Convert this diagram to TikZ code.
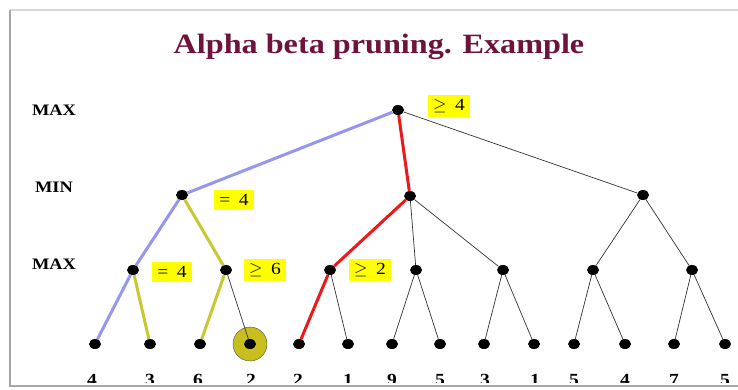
\documentclass[tikz,border=0pt]{standalone}
\usepackage{fontspec}
\setmainfont{Liberation Serif}[FakeStretch=1.15]
\usetikzlibrary{positioning, shapes.geometric}
\definecolor{titlered}{RGB}{110,20,60}
\definecolor{pathblue}{RGB}{150,150,240}
\definecolor{pathyellow}{RGB}{200,200,50}
\definecolor{pathred}{RGB}{235,25,25}
\definecolor{boxyellow}{RGB}{255,255,0}
\definecolor{cutfill}{RGB}{200,190,30}

\begin{document}
\begin{tikzpicture}[x=1pt, y=-1pt,
  dot/.style={ellipse, fill=black, inner sep=0pt, minimum width=12pt, minimum height=10pt},
  lvl/.style={font=\fontsize{16}{18}\selectfont\bfseries},
  vbox/.style={fill=boxyellow, inner xsep=5pt, inner ysep=4pt, font=\fontsize{17}{19}\selectfont},
  leafval/.style={font=\fontsize{17}{19}\selectfont\bfseries},
  thinedge/.style={black!80, line width=0.7pt},
  blueedge/.style={pathblue, line width=3pt},
  yedge/.style={pathyellow, line width=3pt},
  rededge/.style={pathred, line width=3pt}]
  \useasboundingbox (0,0) rectangle (738,389);
  % slide frame
  \draw[black!15, line width=2pt] (740,10) -- (10,10);
  \draw[black!35, line width=2pt] (10,10) -- (10,386) -- (740,386);

  \node[font=\fontsize{28}{32}\selectfont\bfseries, text=titlered] (title) at (379,47) {Alpha beta pruning. Example};

  \node[lvl] (lmax1) at (54,110) {MAX};
  \node[lvl] (lmin) at (54,187) {MIN};
  \node[lvl] (lmax2) at (54,264) {MAX};

  % root and MIN level
  \node[dot] (r) at (398,110) {};
  \node[dot] (m1) at (182,195) {};
  \node[dot] (m2) at (410,196) {};
  \node[dot] (m3) at (643,195) {};

  % MAX level
  \node[dot] (a1) at (133,270) {};
  \node[dot] (a2) at (226,270) {};
  \node[dot] (a3) at (330,270) {};
  \node[dot] (a4) at (416,270) {};
  \node[dot] (a5) at (503,270) {};
  \node[dot] (a6) at (593,270) {};
  \node[dot] (a7) at (692,270) {};

  % leaves
  \node[circle, draw=black!70, fill=cutfill, minimum size=34pt, inner sep=0pt] (cut) at (250,344) {};
  \foreach \i/\x in {1/95,2/150,3/200,4/250,5/299,6/348,7/392,8/440,9/484,10/534,11/574,12/625,13/674,14/725}
    \node[dot] (l\i) at (\x,344) {};

  \begin{scope}
    \clip (0,0) rectangle (738,382);
    \foreach \i/\x/\v in {1/92/4,2/150/3,3/198/6,4/251/2,5/298/2,6/348/1,7/392/9,8/440/5,9/485/3,10/535/1,11/574/5,12/625/4,13/674/7,14/725/5}
      \node[leafval, anchor=north] (v\i) at (\x,371) {\v};
  \end{scope}

  % edges
  \draw[blueedge] (r) -- (m1);
  \draw[rededge] (r) -- (m2);
  \draw[thinedge] (r) -- (m3);
  \draw[blueedge] (m1) -- (a1);
  \draw[yedge] (m1) -- (a2);
  \draw[rededge] (m2) -- (a3);
  \draw[thinedge] (m2) -- (a4);
  \draw[thinedge] (m2) -- (a5);
  \draw[thinedge] (m3) -- (a6);
  \draw[thinedge] (m3) -- (a7);
  \draw[blueedge] (a1) -- (l1);
  \draw[yedge] (a1) -- (l2);
  \draw[yedge] (a2) -- (l3);
  \draw[thinedge] (a2) -- (l4);
  \draw[rededge] (a3) -- (l5);
  \draw[thinedge] (a3) -- (l6);
  \draw[thinedge] (a4) -- (l7);
  \draw[thinedge] (a4) -- (l8);
  \draw[thinedge] (a5) -- (l9);
  \draw[thinedge] (a5) -- (l10);
  \draw[thinedge] (a6) -- (l11);
  \draw[thinedge] (a6) -- (l12);
  \draw[thinedge] (a7) -- (l13);
  \draw[thinedge] (a7) -- (l14);

  % bound labels
  \node[vbox] (b1) at (449,106) {$\geq$\enspace4};
  \node[vbox] (b2) at (234,200) {=\enspace4};
  \node[vbox] (b3) at (172,272) {=\enspace4};
  \node[vbox] (b4) at (265,270) {$\geq$\enspace6};
  \node[vbox] (b5) at (370,270) {$\geq$\enspace2};
\end{tikzpicture}
\end{document}
